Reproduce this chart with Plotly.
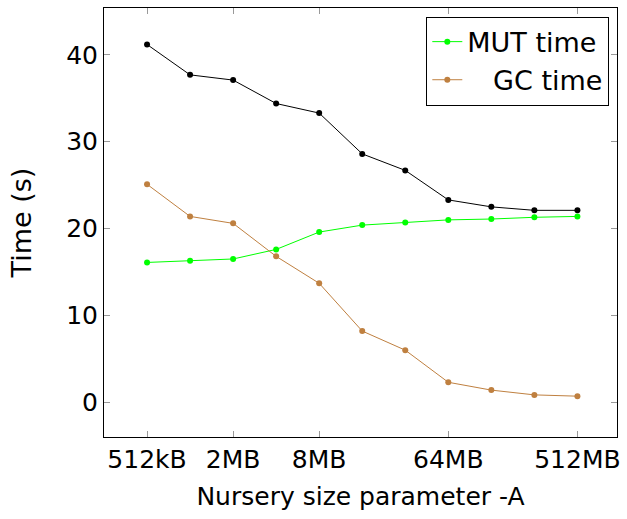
import plotly.graph_objects as go

# x positions in log2(MB)
x_log2 = [-1, 0, 1, 2, 3, 4, 5, 6, 7, 8, 9]
tick_vals = [-1, 1, 3, 6, 9]
tick_text = ["512kB", "2MB", "8MB", "64MB", "512MB"]

total_time = [41.2, 37.7, 37.1, 34.4, 33.3, 28.6, 26.7, 23.3, 22.5, 22.1, 22.1]
mut_time = [16.1, 16.3, 16.5, 17.6, 19.6, 20.4, 20.7, 21.0, 21.1, 21.3, 21.4]
gc_time = [25.1, 21.4, 20.6, 16.8, 13.7, 8.2, 6.0, 2.3, 1.4, 0.85, 0.7]

FONT = "DejaVu Sans"

fig = go.Figure()
fig.add_trace(go.Scatter(x=x_log2, y=total_time, mode="lines+markers", name="Total",
                         line=dict(color="black", width=1), marker=dict(color="black", size=6),
                         showlegend=False))
fig.add_trace(go.Scatter(x=x_log2, y=mut_time, mode="lines+markers", name="MUT time",
                         line=dict(color="#00ff00", width=1), marker=dict(color="#00ff00", size=6)))
fig.add_trace(go.Scatter(x=x_log2, y=gc_time, mode="lines+markers", name="\u00a0\u00a0\u00a0GC time",
                         line=dict(color="#bf8040", width=1), marker=dict(color="#bf8040", size=6)))

axis_common = dict(showline=True, linecolor="black", linewidth=1, mirror="ticks",
                   ticks="inside", ticklen=6, tickcolor="#999999", showgrid=False,
                   zeroline=False, tickfont=dict(family=FONT, size=25, color="black"))

fig.update_layout(
    width=627, height=519,
    margin=dict(l=104, r=7, t=8, b=82),
    paper_bgcolor="white", plot_bgcolor="white",
    font=dict(family=FONT, color="black"),
    xaxis=dict(range=[-2, 9.92], tickvals=tick_vals, ticktext=tick_text,
               title=dict(text="Nursery size parameter -A", font=dict(family=FONT, size=25), standoff=14),
               **axis_common),
    yaxis=dict(range=[-4.0, 45.4], tickvals=[0, 10, 20, 30, 40],
               title=dict(text="Time (s)", font=dict(family=FONT, size=27), standoff=26),
               **axis_common),
    legend=dict(x=0.985, y=0.98, xanchor="right", yanchor="top",
                bordercolor="black", borderwidth=1, bgcolor="white",
                font=dict(family=FONT, size=27), tracegroupgap=0),
)

fig.write_html("out.html")
